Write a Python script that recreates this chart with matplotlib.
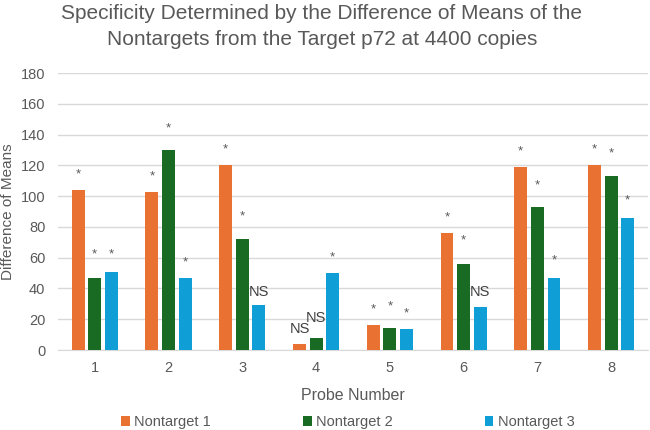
import numpy as np
import matplotlib
matplotlib.use("Agg")
import matplotlib.pyplot as plt

# --- data ---
probes = ["1", "2", "3", "4", "5", "6", "7", "8"]
series_names = ["Nontarget 1", "Nontarget 2", "Nontarget 3"]
nontarget1 = [104, 103, 120, 4, 16, 76, 119, 120]
nontarget2 = [47, 130, 72, 7.5, 14, 56, 93, 113]
nontarget3 = [51, 47, 29, 50, 13.5, 28, 47, 86]

# significance markers and the height they sit at
sig1 = ["*", "*", "*", "NS", "*", "*", "*", "*"]
sig2 = ["*", "*", "*", "NS", "*", "*", "*", "*"]
sig3 = ["*", "*", "NS", "*", "*", "NS", "*", "*"]
sig1_y = [114, 113, 130.5, 13.5, 26.5, 86.5, 129, 130.5]
sig2_y = [62, 144, 87, 21, 28.5, 71, 107, 128]
sig3_y = [62, 57, 38, 60, 24, 37.5, 58, 97]

colors = ["#E97132", "#196B24", "#0F9ED5"]
text_color = "#595959"

plt.rcParams["font.family"] = ["Liberation Sans", "DejaVu Sans"]

fig = plt.figure(figsize=(6.5, 4.3), dpi=100)
ax = fig.add_axes([0.089, 0.186, 0.908, 0.644])

x = np.arange(len(probes))
width = 0.175
step = 0.225
series = [nontarget1, nontarget2, nontarget3]
sigs = [sig1, sig2, sig3]
sig_ys = [sig1_y, sig2_y, sig3_y]

for i, (vals, name, col) in enumerate(zip(series, series_names, colors)):
    xpos = x + (i - 1) * step
    ax.bar(xpos, vals, width=width, color=col, label=name, zorder=3)
    for xp, s, sy in zip(xpos, sigs[i], sig_ys[i]):
        if s == "*":
            ax.text(xp, sy, s, ha="center", va="center", fontsize=9.5,
                    color=text_color, zorder=4)
        else:
            ax.text(xp, sy, s, ha="center", va="center", fontsize=10.5,
                    color="#404040", zorder=4)

ax.set_xlim(-0.5, len(probes) - 0.5)
ax.set_ylim(0, 180)
ax.set_yticks(np.arange(0, 181, 20))
ax.set_xticks(x)
ax.set_xticklabels(probes)
ax.tick_params(length=0, labelsize=10.5, labelcolor=text_color)
ax.tick_params(axis="x", pad=8)
ax.tick_params(axis="y", pad=9)
ax.grid(axis="y", color="#D9D9D9", linewidth=1, zorder=0)
for side in ["top", "right", "left"]:
    ax.spines[side].set_visible(False)
ax.spines["bottom"].set_color("#D9D9D9")

ax.set_xlabel("Probe Number", fontsize=11.5, color=text_color)
ax.xaxis.set_label_coords(0.5, -0.138)
ax.set_ylabel("Difference of Means", fontsize=11, color=text_color)
ax.yaxis.set_label_coords(-0.073, 0.5)

fig.suptitle("Specificity Determined by the Difference of Means of the\n"
             "Nontargets from the Target p72 at 4400 copies",
             x=0.495, y=0.99, fontsize=15, color=text_color, linespacing=1.45)

fig.legend(loc="center", bbox_to_anchor=(0.535, 0.018), ncol=3,
           frameon=False, fontsize=10.5, handlelength=0.6, handleheight=0.6,
           handletextpad=0.3, columnspacing=6.3, labelcolor=text_color)

fig.savefig("out.png", dpi=100)
